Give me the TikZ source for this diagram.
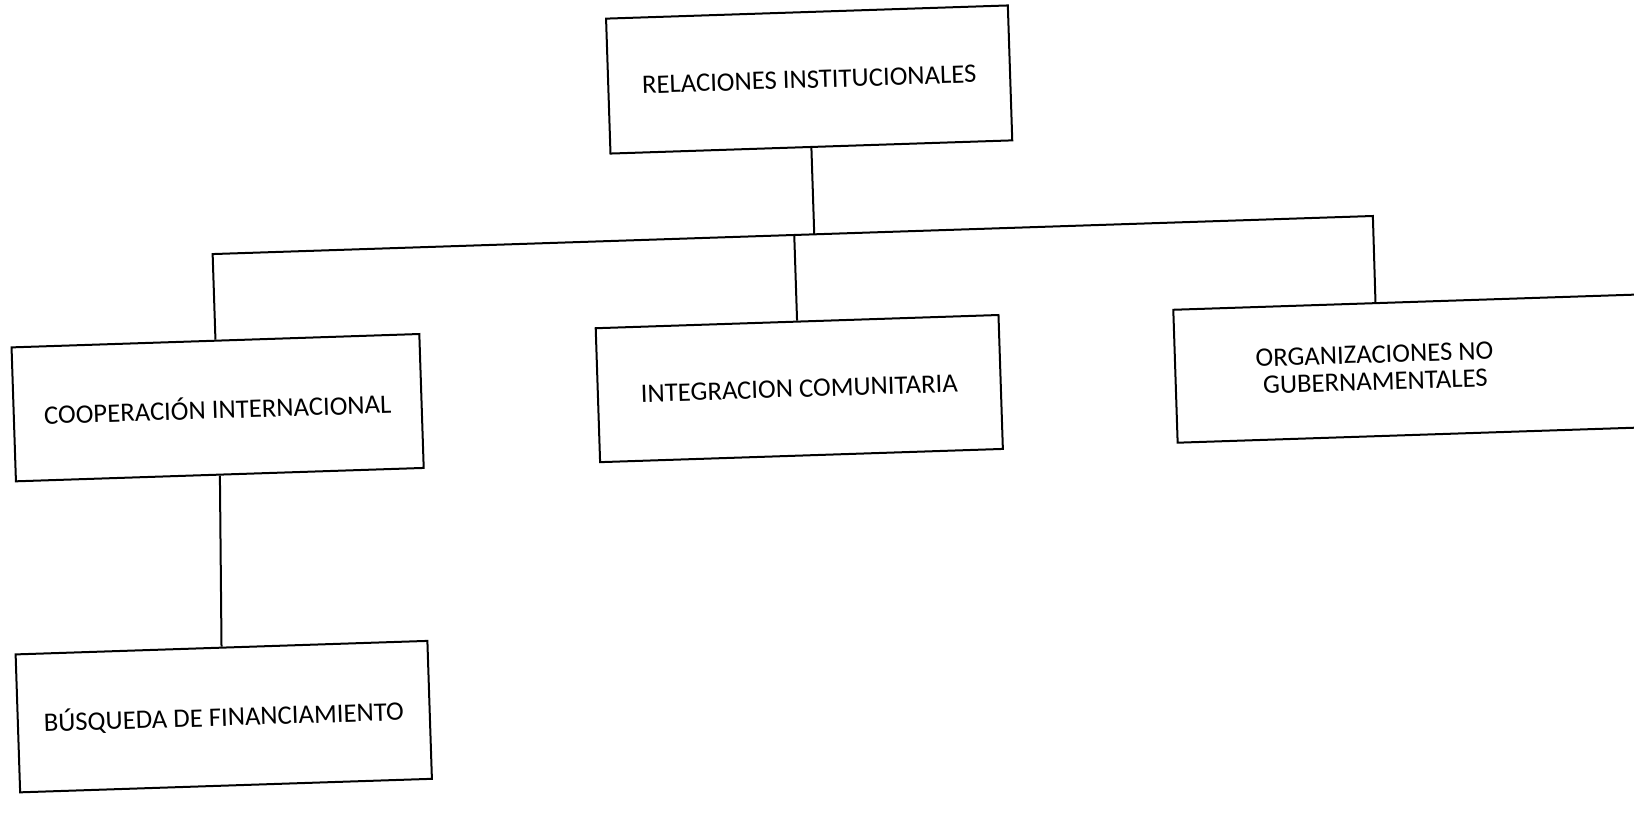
\documentclass[tikz,border=0pt]{standalone}
\usepackage{fontspec}
\setmainfont{Carlito}
\usetikzlibrary{calc}
\tikzset{
  orgbox/.style={draw=black, line width=1pt, fill=white, transform shape, align=center,
    inner sep=0pt, font=\fontsize{13.35}{13.6}\selectfont},
  conn/.style={draw=black, line width=1pt, line join=miter},
  lbl/.style={transform shape, align=center, inner sep=0pt, font=\fontsize{13.35}{13.6}\selectfont}
}
\begin{document}
\begin{tikzpicture}[x=0.5pt,y=0.5pt]
\useasboundingbox (0,0) rectangle (1634,-821);
\clip (0,0) rectangle (1634,-821);
\fill[white] (0,0) rectangle (1634,-821);
\begin{scope}[shift={(817,-410)}, rotate=1.88]
  \node[orgbox, minimum width=201pt, minimum height=67.5pt] (top) at (3,330.6) {RELACIONES INSTITUCIONALES};
  \node[orgbox, minimum width=204pt, minimum height=67pt] (coop) at (-599,22) {COOPERACIÓN INTERNACIONAL};
  \node[orgbox, minimum width=201.5pt, minimum height=67pt] (integ) at (-17,22) {INTEGRACION COMUNITARIA};
  \node[orgbox, minimum width=235pt, minimum height=66.5pt] (ngobox) at (594.4,22) {};
  \node[lbl] (ngotext) at (559,23.7) {ORGANIZACIONES NO\\GUBERNAMENTALES};
  \node[orgbox, minimum width=206pt, minimum height=69pt] (busq) at (-603,-287) {BÚSQUEDA DE FINANCIAMIENTO};
  \coordinate (jl) at (-599,175.7);
  \coordinate (jr) at (562,175.7);
  \coordinate (jm) at (3,175.7);
  \coordinate (ji) at (-17,175.7);
  \coordinate (ngoin) at ($(ngobox.north west)!0.431!(ngobox.north east)$);
  \draw[conn] (top.south) -- (jm);
  \draw[conn] (coop.north) -- (jl) -- (jr) -- (ngoin);
  \draw[conn] (ji) -- (integ.north);
  \draw[conn] (coop.south) -- (busq.north);
\end{scope}
\end{tikzpicture}
\end{document}
